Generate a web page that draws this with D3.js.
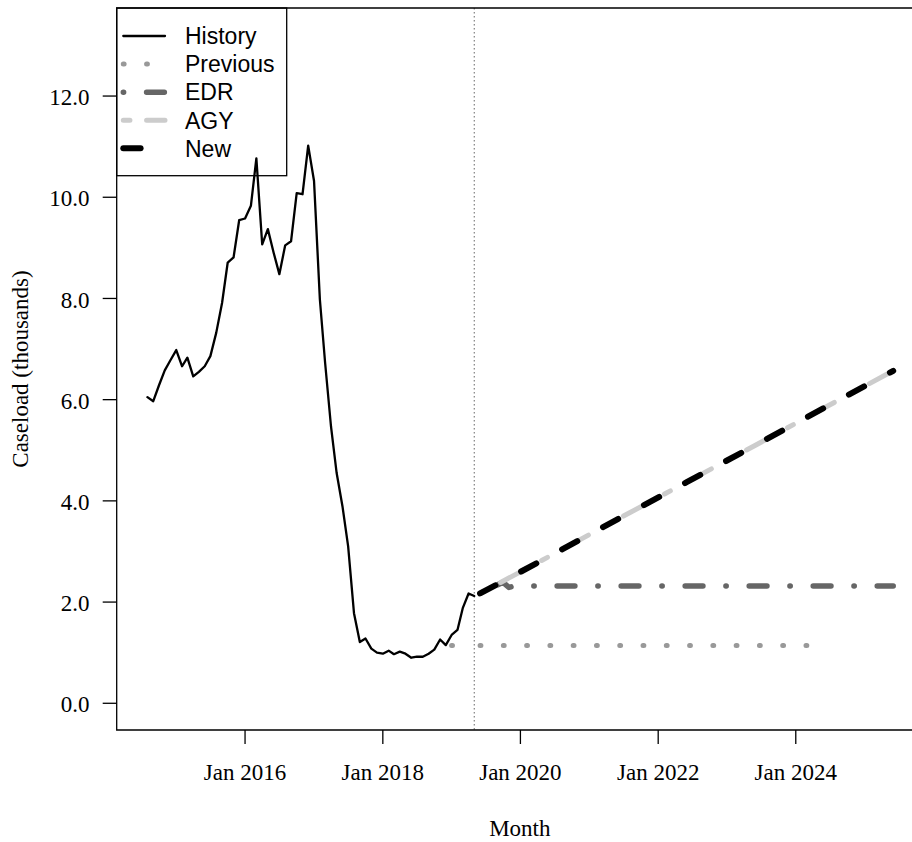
<!DOCTYPE html>
<html>
<head>
<meta charset="utf-8">
<script src="https://cdn.jsdelivr.net/npm/d3@7"></script>
<style>
  html, body { margin: 0; padding: 0; background: #ffffff; }
  svg { display: block; }
</style>
</head>
<body>
<svg id="chart" width="912" height="842"></svg>
<script>
// ---------------- data ----------------
const historyStart = "2014-08-01";
const historyValues = [
  6.05, 5.97, 6.28, 6.58, 6.78,
  6.98, 6.66, 6.83, 6.46, 6.55, 6.66, 6.86, 7.32, 7.91, 8.71, 8.81, 9.55,
  9.58, 9.83, 10.77, 9.07, 9.37, 8.90, 8.48, 9.05, 9.13, 10.08, 10.06, 11.02,
  10.32, 7.98, 6.72, 5.47, 4.55, 3.89, 3.10, 1.78, 1.21, 1.28, 1.08, 1.00,
  0.98, 1.04, 0.97, 1.02, 0.98, 0.90, 0.92, 0.92, 0.98, 1.06, 1.26, 1.15,
  1.35, 1.45, 1.88, 2.17, 2.12
];

const previousDates  = ["2019-01-01", "2019-02-01", "2019-03-01", "2019-06-01", "2020-06-01", "2021-06-01", "2022-06-01", "2023-06-01", "2024-05-01"];
const previousValues = [1.14, 1.14, null, 1.14, 1.14, 1.14, 1.14, 1.14, 1.14];

const edrDates  = ["2019-06-01", "2019-07-01", "2019-08-01", "2019-09-01", "2019-10-01", "2019-11-01", "2019-12-01", "2020-06-01", "2021-06-01", "2022-06-01", "2023-06-01", "2024-06-01", "2025-06-01"];
const edrValues = [2.37, 2.33, 2.31, 2.34, 2.39, 2.29, 2.32, 2.32, 2.32, 2.32, 2.32, 2.32, 2.32];

const agyDates  = ["2019-06-01", "2020-06-01", "2021-06-01", "2022-06-01", "2023-06-01", "2024-06-01", "2025-06-01"];
const agyValues = [2.17, 2.90, 3.64, 4.37, 5.10, 5.84, 6.57];

const newDates  = ["2019-06-01", "2020-06-01", "2021-06-01", "2022-06-01", "2023-06-01", "2024-06-01", "2025-06-01"];
const newValues = [2.17, 2.90, 3.64, 4.37, 5.10, 5.84, 6.57];

const forecastOrigin = "2019-05-01";

const yTickValues = [0, 2, 4, 6, 8, 10, 12];
const xTickDates  = ["2016-01-01", "2018-01-01", "2020-01-01", "2022-01-01", "2024-01-01"];

const xLimits = ["2014-02-19", "2025-11-06"];
const yLimits = [-0.528, 13.74];

const legendLabels = ["History", "Previous", "EDR", "AGY", "New"];

const xTitle = "Month";
const yTitle = "Caseload (thousands)";

// ---------------- layout / styles ----------------
const parse = d3.timeParse("%Y-%m-%d");
const box = { left: 116.7, right: 923, top: 8, bottom: 730 };
const serif = "'Liberation Serif', 'Times New Roman', Times, serif";
const sans  = "'Liberation Sans', Arial, Helvetica, sans-serif";
const fs = 23;
const U = 5.82; // dash unit

function dashes(pattern, w) {
  return pattern.map((n, i) => i % 2 === 0 ? Math.max(n * U - w, 0.01) : n * U + w).join(" ");
}

const styles = {
  History:  { color: "#000000", width: 2.3, dash: null, offset: 0 },
  Previous: { color: "#999999", width: 5,   dash: dashes([1, 3], 5), offset: 0 },
  EDR:      { color: "#666666", width: 5.5, dash: dashes([1, 3, 4, 3], 5.5), offset: 7 },
  AGY:      { color: "#cccccc", width: 5,   dash: dashes([2, 2, 6, 2], 5), offset: 0 },
  New:      { color: "#000000", width: 6,   dash: dashes([4, 4], 6), offset: 0 }
};

const svg = d3.select("#chart");
svg.append("rect").attr("width", 912).attr("height", 842).attr("fill", "#ffffff");

const x = d3.scaleTime().domain(xLimits.map(parse)).range([box.left, box.right]);
const y = d3.scaleLinear().domain(yLimits).range([box.bottom, box.top]);

// ---------------- series ----------------
const historyDates = d3.timeMonth.range(parse(historyStart), d3.timeMonth.offset(parse(historyStart), historyValues.length));
const historyData = historyValues.map((v, i) => ({ d: historyDates[i], v }));

function zipSeries(dates, values) { return dates.map((d, i) => ({ d: parse(d), v: values[i] })); }

// split into runs at missing values
function runs(data) {
  const out = []; let cur = [];
  data.forEach(p => {
    if (p.v == null) { if (cur.length) out.push(cur); cur = []; }
    else cur.push(p);
  });
  if (cur.length) out.push(cur);
  return out;
}

const line = d3.line().x(p => x(p.d)).y(p => y(p.v));

// legend box (drawn beneath the lines, no fill)
const legendBox = { x0: box.left, x1: 286.7, y0: box.top, y1: 175.7 };
svg.append("rect")
  .attr("x", legendBox.x0).attr("y", legendBox.y0)
  .attr("width", legendBox.x1 - legendBox.x0).attr("height", legendBox.y1 - legendBox.y0)
  .attr("fill", "none").attr("stroke", "#000").attr("stroke-width", 1.3);

// forecast origin vertical line
svg.append("line")
  .attr("x1", x(parse(forecastOrigin))).attr("x2", x(parse(forecastOrigin)))
  .attr("y1", box.top).attr("y2", box.bottom)
  .attr("stroke", "#666").attr("stroke-width", 1).attr("stroke-dasharray", "1.5 2.5");

function drawSeries(name, data) {
  const s = styles[name];
  runs(data).forEach(r => {
    const p = svg.append("path")
      .attr("d", line(r))
      .attr("fill", "none")
      .attr("stroke", s.color)
      .attr("stroke-width", s.width)
      .attr("stroke-linecap", "round")
      .attr("stroke-linejoin", "round");
    if (s.dash) p.attr("stroke-dasharray", s.dash).attr("stroke-dashoffset", s.offset);
  });
}

drawSeries("History", historyData);
drawSeries("Previous", zipSeries(previousDates, previousValues));
drawSeries("EDR", zipSeries(edrDates, edrValues));
drawSeries("AGY", zipSeries(agyDates, agyValues));
drawSeries("New", zipSeries(newDates, newValues));

// ---------------- box & axes ----------------
const axisG = svg.append("g").attr("stroke", "#000").attr("stroke-width", 1.3).attr("fill", "none");
axisG.append("path").attr("d", `M${box.right},${box.top}H${box.left}V${box.bottom}H${box.right}`);

// y axis
yTickValues.forEach(v => {
  axisG.append("line").attr("x1", box.left - 14).attr("x2", box.left).attr("y1", y(v)).attr("y2", y(v));
  svg.append("text")
    .attr("x", 89.5).attr("y", y(v)).attr("dy", "0.4em")
    .attr("text-anchor", "end")
    .attr("font-family", serif).attr("font-size", fs).attr("fill", "#000")
    .text(d3.format(".1f")(v));
});

// x axis
const fmt = d3.timeFormat("%b %Y");
xTickDates.map(parse).forEach(d => {
  axisG.append("line").attr("x1", x(d)).attr("x2", x(d)).attr("y1", box.bottom).attr("y2", box.bottom + 14);
  svg.append("text")
    .attr("x", x(d)).attr("y", 780)
    .attr("text-anchor", "middle")
    .attr("font-family", serif).attr("font-size", fs).attr("fill", "#000")
    .text(fmt(d));
});

// titles
svg.append("text")
  .attr("x", (box.left + box.right) / 2).attr("y", 836)
  .attr("text-anchor", "middle")
  .attr("font-family", serif).attr("font-size", fs).attr("fill", "#000")
  .text(xTitle);

svg.append("text")
  .attr("transform", `translate(28,${(box.top + box.bottom) / 2}) rotate(-90)`)
  .attr("text-anchor", "middle")
  .attr("font-family", serif).attr("font-size", fs).attr("fill", "#000")
  .text(yTitle);

// ---------------- legend ----------------
legendLabels.forEach((name, i) => {
  const ry = 36 + 28.08 * i;
  const s = styles[name];
  const seg = svg.append("line")
    .attr("x1", 123.3).attr("x2", 165).attr("y1", ry).attr("y2", ry)
    .attr("stroke", s.color).attr("stroke-width", s.width)
    .attr("stroke-linecap", "round");
  if (s.dash) seg.attr("stroke-dasharray", s.dash);
  svg.append("text")
    .attr("x", 185).attr("y", ry + 8.3)
    .attr("font-family", sans).attr("font-size", fs).attr("fill", "#000")
    .text(name);
});
</script>
</body>
</html>
